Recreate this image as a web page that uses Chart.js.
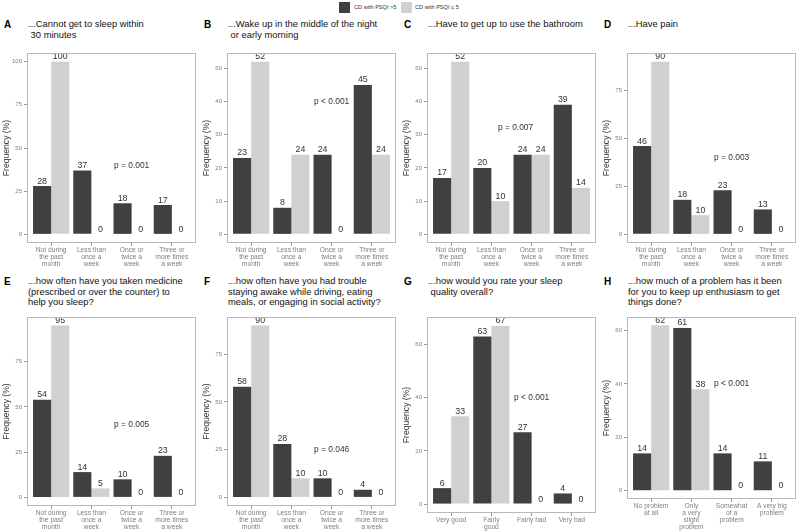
<!DOCTYPE html>
<html>
<head>
<meta charset="utf-8">
<script src="https://cdn.jsdelivr.net/npm/chart.js@4"></script>
<style>
  body { margin:0; background:#fff; font-family:'Liberation Sans', Arial, sans-serif; }
  #wrap { position:relative; width:800px; height:532px; overflow:hidden; }
  .p-letter { position:absolute; font-weight:bold; font-size:10px; color:#000; }
  .p-title { position:absolute; font-size:9.4px; line-height:10.5px; color:#111; white-space:pre; }
  .leg-box { position:absolute; top:2px; width:11px; height:11px; }
  .leg-txt { position:absolute; top:4px; font-size:5.6px; color:#333; white-space:nowrap; }
  canvas { position:absolute; }
</style>
</head>
<body>
<div id="wrap">
  <div class="leg-box" style="left:339px;background:#404040"></div>
  <div class="leg-txt" style="left:354px">CD with PSQI &gt;5</div>
  <div class="leg-box" style="left:401px;background:#d0d0d0"></div>
  <div class="leg-txt" style="left:415px">CD with PSQI ≤ 5</div>
</div>
<script>
// categories
const freqCats    = [['Not during','the past','month'], ['Less than','once a','week'], ['Once or','twice a','week'], ['Three or','more times','a week']];
const qualityCats = ['Very good', ['Fairly','good'], 'Fairly bad', 'Very bad'];
const problemCats = [['No problem','at all'], ['Only','a very','slight','problem'], ['Somewhat','of a','problem'], ['A very big','problem']];

// % values: dark = CD with PSQI >5, light = CD with PSQI <= 5
const sleepIn30Dark  = [28, 37, 18, 17];  const sleepIn30Light  = [100, 0, 0, 0];
const wakeUpDark     = [23, 8, 24, 45];   const wakeUpLight     = [52, 24, 0, 24];
const bathroomDark   = [17, 20, 24, 39];  const bathroomLight   = [52, 10, 24, 14];
const painDark       = [46, 18, 23, 13];  const painLight       = [90, 10, 0, 0];
const medicineDark   = [54, 14, 10, 23];  const medicineLight   = [95, 5, 0, 0];
const awakeDark      = [58, 28, 10, 4];   const awakeLight      = [90, 10, 0, 0];
const qualityDark    = [6, 63, 27, 4];    const qualityLight    = [33, 67, 0, 0];
const enthusiasmDark = [14, 61, 14, 11];  const enthusiasmLight = [62, 38, 0, 0];

// y tick labels
const ticks25 = [0, 25, 50, 75];
const ticks100 = [0, 25, 50, 75, 100];
const ticks10 = [0, 10, 20, 30, 40, 50];
const ticks20 = [0, 20, 40, 60];

const DARK  = '#404040';
const LIGHT = '#d0d0d0';
const FONT  = "'Liberation Sans', Arial, sans-serif";

const panels = [
  { letter:'A', title:'...Cannot get to sleep within\n 30 minutes', cats:freqCats, dark:sleepIn30Dark, light:sleepIn30Light, yticks:ticks100, p:'p = 0.001', px:2, py:40 },
  { letter:'B', title:'...Wake up in the middle of the night\n or early morning', cats:freqCats, dark:wakeUpDark, light:wakeUpLight, yticks:ticks10, p:'p < 0.001', px:2, py:40 },
  { letter:'C', title:'...Have to get up to use the bathroom', cats:freqCats, dark:bathroomDark, light:bathroomLight, yticks:ticks10, p:'p = 0.007', px:1.6, py:32 },
  { letter:'D', title:'...Have pain', cats:freqCats, dark:painDark, light:painLight, yticks:ticks25, p:'p = 0.003', px:2, py:40 },
  { letter:'E', title:'...how often have you taken medicine\n(prescribed or over the counter) to\nhelp you sleep?', cats:freqCats, dark:medicineDark, light:medicineLight, yticks:ticks25, p:'p = 0.005', px:2, py:40 },
  { letter:'F', title:'...how often have you had trouble\nstaying awake while driving, eating\nmeals, or engaging in social activity?', cats:freqCats, dark:awakeDark, light:awakeLight, yticks:ticks25, p:'p = 0.046', px:2, py:25 },
  { letter:'G', title:'...how would you rate your sleep\n quality overall?', cats:qualityCats, dark:qualityDark, light:qualityLight, yticks:ticks20, p:'p < 0.001', px:2, py:40 },
  { letter:'H', title:'...how much of a problem has it been\nfor you to keep up enthusiasm to get\nthings done?', cats:problemCats, dark:enthusiasmDark, light:enthusiasmLight, yticks:ticks20, p:'p < 0.001', px:2, py:40 },
];

// border round the plot area
const boxPlugin = {
  id: 'box',
  afterDraw(chart) {
    const a = chart.chartArea, ctx = chart.ctx;
    ctx.save();
    ctx.strokeStyle = '#b8b8b8';
    ctx.lineWidth = 1;
    ctx.strokeRect(Math.round(a.left) + 0.5, Math.round(a.top) + 0.5,
                   Math.round(a.right - a.left) - 1, Math.round(a.bottom - a.top) - 1);
    ctx.restore();
  }
};

function labelPlugin(p) {
  return {
    id: 'labels',
    afterDatasetsDraw(chart) {
      const ctx = chart.ctx;
      ctx.save();
      ctx.font = '8.8px ' + FONT;
      ctx.fillStyle = '#333';
      ctx.textAlign = 'center';
      ctx.textBaseline = 'bottom';
      chart.data.datasets.forEach((ds, i) => {
        chart.getDatasetMeta(i).data.forEach((bar, j) => {
          ctx.fillText(String(ds.data[j]), bar.x, bar.y - 0.5);
        });
      });
      ctx.textBaseline = 'middle';
      ctx.font = '8.4px ' + FONT;
      ctx.fillText(p.p, chart.scales.x.getPixelForValue(p.px), chart.scales.y.getPixelForValue(p.py));
      ctx.restore();
    }
  };
}

function makePanel(p, idx) {
  const wrap = document.getElementById('wrap');
  const col = idx % 4, row = Math.floor(idx / 4);
  const x0 = col * 200;
  const titleTop = row === 0 ? 19 : 276;

  const lt = document.createElement('div');
  lt.className = 'p-letter';
  lt.style.left = (x0 + 4) + 'px';
  lt.style.top = (titleTop - 0.5) + 'px';
  lt.textContent = p.letter;
  wrap.appendChild(lt);

  const tt = document.createElement('div');
  tt.className = 'p-title';
  tt.style.left = (x0 + 28) + 'px';
  tt.style.top = titleTop + 'px';
  tt.textContent = p.title;
  wrap.appendChild(tt);

  const top = row === 0 ? 45 : 309;
  const h   = row === 0 ? 224 : 223;
  const cv = document.createElement('canvas');
  cv.width = 200; cv.height = h;
  cv.style.left = x0 + 'px'; cv.style.top = top + 'px';
  cv.style.width = '200px'; cv.style.height = h + 'px';
  wrap.appendChild(cv);

  const vmax = Math.max(...p.dark, ...p.light);
  const nLines = Math.max(...p.cats.map(c => Array.isArray(c) ? c.length : 1));

  new Chart(cv, {
    type: 'bar',
    data: {
      labels: p.cats,
      datasets: [
        { label: 'CD with PSQI >5', data: p.dark, backgroundColor: DARK, categoryPercentage: 0.9, barPercentage: 1 },
        { label: 'CD with PSQI ≤ 5', data: p.light, backgroundColor: LIGHT, categoryPercentage: 0.9, barPercentage: 1 },
      ],
    },
    options: {
      responsive: false,
      animation: false,
      layout: { padding: { top: 8, right: 4, left: 0, bottom: 0 } },
      plugins: { legend: { display: false }, tooltip: { enabled: false } },
      scales: {
        x: {
          grid: { drawOnChartArea: false, offset: false, tickLength: 3, color: '#999' },
          border: { display: false },
          ticks: { color: '#7f7f7f', padding: 1, maxRotation: 0, autoSkip: false,
                   font: { size: 6.7, family: FONT, lineHeight: '7px' } },
          // ggplot-like 0.6 category padding at both ends
          afterBuildTicks: s => { s._startValue = -0.6; s._valueRange = 4.2; },
          afterFit: s => { s.height = 5 + 7 * nLines; },
        },
        y: {
          min: -0.05 * vmax,
          max: 1.05 * vmax,
          afterBuildTicks: s => { s.ticks = p.yticks.map(v => ({ value: v })); },
          grid: { drawOnChartArea: false, tickLength: 3, color: '#999' },
          border: { display: false },
          ticks: { color: '#7f7f7f', padding: 2, font: { size: 6, family: FONT } },
          title: { display: true, text: 'Frequency (%)', color: '#333',
                   font: { size: 8.6, family: FONT }, padding: { top: 1, bottom: 0 } },
          afterFit: s => { s.width = 27; },
        },
      },
    },
    plugins: [boxPlugin, labelPlugin(p)],
  });
}

panels.forEach(makePanel);
</script>
</body>
</html>
